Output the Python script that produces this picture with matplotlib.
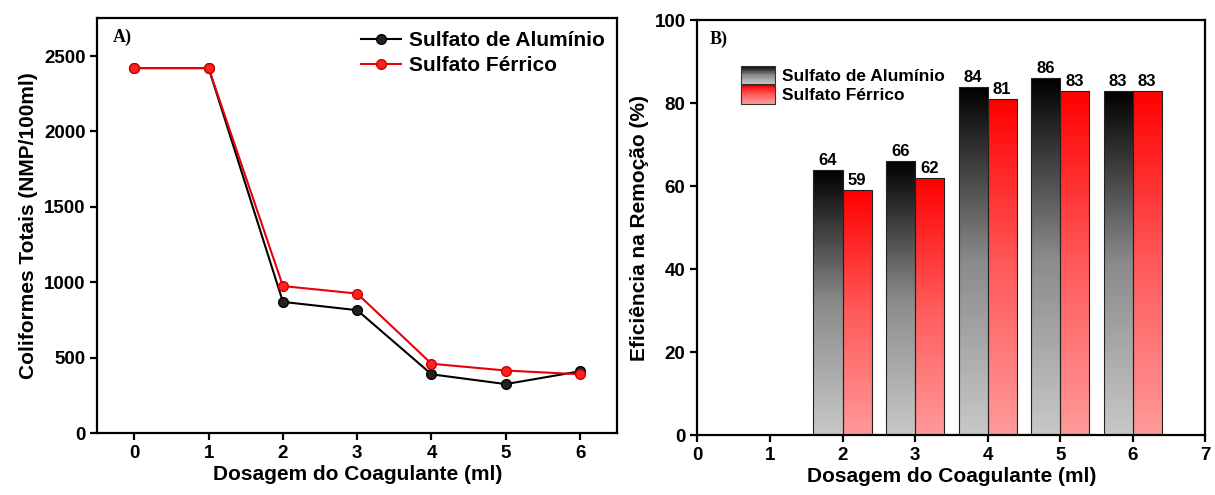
import numpy as np
import matplotlib
matplotlib.use("Agg")
import matplotlib.pyplot as plt
from matplotlib.colors import LinearSegmentedColormap
from matplotlib.patches import Rectangle
from matplotlib.legend_handler import HandlerBase

plt.rcParams['font.family'] = ['Liberation Sans', 'DejaVu Sans']
plt.rcParams['font.weight'] = 'bold'

# dados
dosagem = [0, 1, 2, 3, 4, 5, 6]
coli_aluminio = [2420, 2420, 870, 815, 390, 325, 410]
coli_ferrico = [2420, 2420, 975, 925, 460, 415, 390]

dose_bar = [2, 3, 4, 5, 6]
efic_aluminio = [64, 66, 84, 86, 83]
efic_ferrico = [59, 62, 81, 83, 83]

nomes = ['Sulfato de Alumínio', 'Sulfato Férrico']

cmap_al = LinearSegmentedColormap.from_list('al', ['#c8c8c8', '#8a8a8a', '#000000'])
cmap_fe = LinearSegmentedColormap.from_list('fe', ['#ff9999', '#ff5a5a', '#ff0000'])


def gradbar(ax, x, h, w, cmap):
    grad = np.linspace(0, 1, 256).reshape(-1, 1)
    im = ax.imshow(grad, cmap=cmap, aspect='auto', origin='lower',
                   extent=[x, x + w, 0, h], zorder=2)
    r = Rectangle((x, 0), w, h, facecolor='none', edgecolor='#222222', lw=0.8, zorder=3)
    ax.add_patch(r)
    im.set_clip_path(r)


class GradHandler(HandlerBase):
    def __init__(self, cmap):
        super().__init__()
        self.cmap = cmap

    def create_artists(self, legend, orig_handle, xdescent, ydescent, width, height, fontsize, trans):
        arts = []
        n = 30
        for i in range(n):
            y0 = -ydescent + height * i / n
            arts.append(Rectangle((-xdescent, y0), width, height / n + 0.3,
                                  facecolor=self.cmap(i / (n - 1)), edgecolor='none', transform=trans))
        arts.append(Rectangle((-xdescent, -ydescent), width, height, facecolor='none',
                              edgecolor='#333333', lw=0.8, transform=trans))
        return arts


fig = plt.figure(figsize=(12.15, 4.95), dpi=100)
ax1 = fig.add_axes([0.080, 0.125, 0.428, 0.838])
ax2 = fig.add_axes([0.574, 0.121, 0.418, 0.838])

# A)
ax1.plot(dosagem, coli_aluminio, '-o', color='black', lw=1.5, ms=7,
         markerfacecolor='#222222', markeredgecolor='black', label=nomes[0])
ax1.plot(dosagem, coli_ferrico, '-o', color='#e8000b', lw=1.5, ms=7,
         markerfacecolor='#ff2020', markeredgecolor='#d00000', label=nomes[1])
ax1.set_xlim(-0.5, 6.5)
ax1.set_ylim(0, 2750)
ax1.set_xticks(dosagem)
ax1.set_yticks([0, 500, 1000, 1500, 2000, 2500])
ax1.set_xlabel('Dosagem do Coagulante (ml)', fontsize=15, fontweight='bold', labelpad=2)
ax1.set_ylabel('Coliformes Totais (NMP/100ml)', fontsize=15, fontweight='bold')
ax1.text(0.03, 0.975, 'A)', transform=ax1.transAxes, fontsize=13, fontweight='bold',
         family='Liberation Serif', va='top')
ax1.legend(loc='upper right', frameon=False, fontsize=15, handlelength=1.9,
           handletextpad=0.4, labelspacing=0.3, borderaxespad=0.2)

# B)
w = 0.4
for x, a, f in zip(dose_bar, efic_aluminio, efic_ferrico):
    gradbar(ax2, x - w, a, w, cmap_al)
    gradbar(ax2, x, f, w, cmap_fe)
    ax2.text(x - w / 2, a + 0.5, str(a), ha='center', va='bottom', fontsize=12, fontweight='bold')
    ax2.text(x + w / 2, f + 0.5, str(f), ha='center', va='bottom', fontsize=12, fontweight='bold')

ax2.set_xlim(0, 7)
ax2.set_ylim(0, 100)
ax2.set_xticks(range(0, 8))
ax2.set_yticks([0, 20, 40, 60, 80, 100])
ax2.set_xlabel('Dosagem do Coagulante (ml)', fontsize=15, fontweight='bold', labelpad=2)
ax2.set_ylabel('Eficiência na Remoção (%)', fontsize=15, fontweight='bold')
ax2.text(0.025, 0.975, 'B)', transform=ax2.transAxes, fontsize=13, fontweight='bold',
         family='Liberation Serif', va='top')
h1 = Rectangle((0, 0), 1, 1)
h2 = Rectangle((0, 0), 1, 1)
ax2.legend([h1, h2], nomes, loc='upper left', bbox_to_anchor=(0.085, 0.89), frameon=False,
           handlelength=2.0, handleheight=1.25, handletextpad=0.4,
           labelspacing=0.05, borderaxespad=0.0, borderpad=0.0,
           handler_map={h1: GradHandler(cmap_al), h2: GradHandler(cmap_fe)},
           prop={'weight': 'bold', 'size': 12.5})

for ax in (ax1, ax2):
    for s in ax.spines.values():
        s.set_linewidth(1.6)
    ax.tick_params(direction='out', width=1.6, length=5, labelsize=13.5)
    for lab in ax.get_xticklabels() + ax.get_yticklabels():
        lab.set_fontweight('bold')

fig.savefig('out.png', dpi=100)
